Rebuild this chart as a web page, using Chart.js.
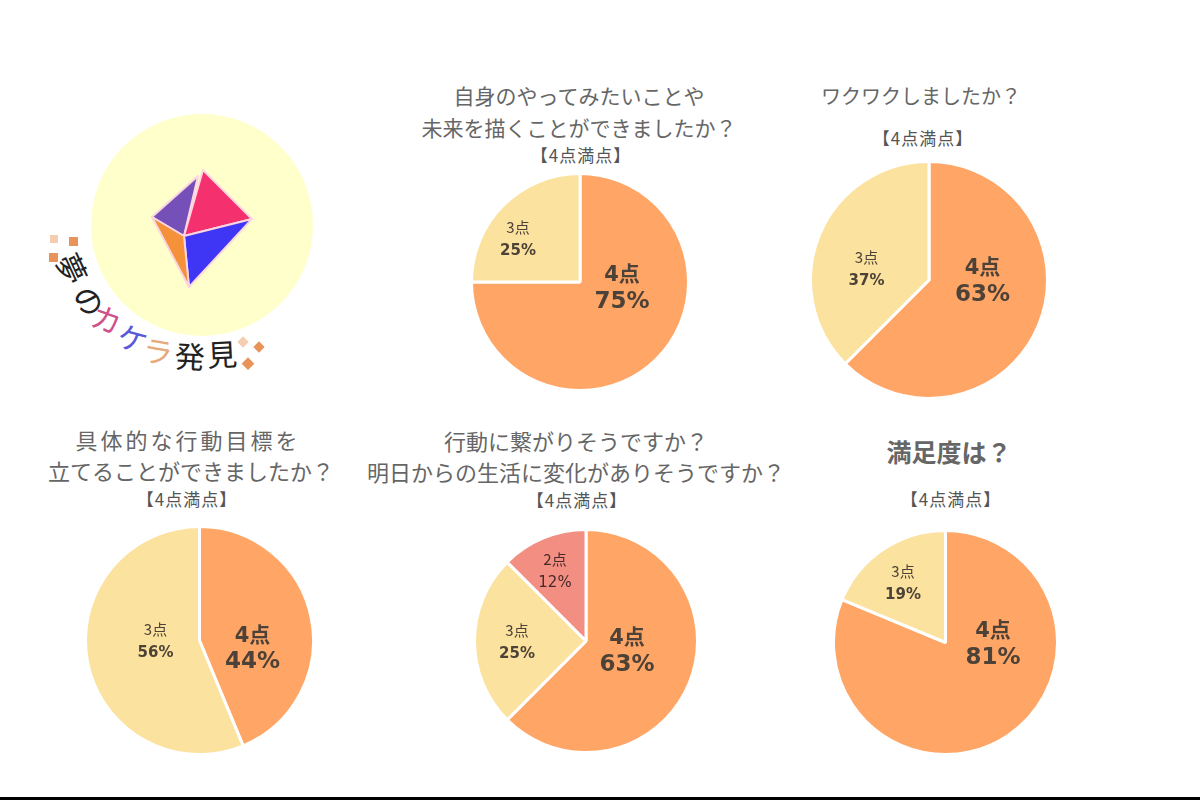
<!DOCTYPE html>
<html lang="ja">
<head>
    <meta charset="UTF-8">
    <title>夢のカケラ発見 アンケート結果</title>
    <script src="https://cdn.jsdelivr.net/npm/chart.js"></script>
    <style>
        html, body { margin: 0; padding: 0; background: #fff; }
        #page { position: relative; width: 1200px; height: 800px; overflow: hidden; font-family: "Noto Sans CJK JP", sans-serif; }
        #page canvas { position: absolute; }
        #logo { position: absolute; left: 0; top: 0; }
        .title { position: absolute; transform: translate(-50%, -50%); white-space: nowrap; font-size: 22px; color: #666; }
        .sub { position: absolute; transform: translate(-50%, -50%); white-space: nowrap; font-size: 17px; letter-spacing: 1px; color: #555; }
        #rule { position: absolute; left: 0; top: 797px; width: 1200px; height: 3px; background: #000; }
    </style>
</head>
<body>
<div id="page">
    <svg id="logo" width="400" height="400" font-family="Noto Sans CJK JP" font-size="30">
        <circle cx="202" cy="225" r="111" fill="#ffffcc"/>
        <g stroke="#fbd5e0" stroke-width="2" stroke-linejoin="round">
            <polygon points="152,217 198,176 184,236" fill="#7450b8"/>
            <polygon points="203,170 252,219 184,236" fill="#f5306e"/>
            <polygon points="184,236 252,219 189,287" fill="#3f35f5"/>
            <polygon points="152,217 184,236 189,287" fill="#f59138"/>
        </g>
        <g text-anchor="middle" dominant-baseline="central">
            <text transform="translate(73,268) rotate(65)" fill="#222">夢</text>
            <text transform="translate(90,300) rotate(50)" fill="#222">の</text>
            <text transform="translate(107,318) rotate(20)" fill="#d0508a">カ</text>
            <text transform="translate(133,337) rotate(15)" fill="#5a5ad8">ケ</text>
            <text transform="translate(158,350) rotate(10)" fill="#e8a878">ラ</text>
            <text transform="translate(190,355) rotate(3)" fill="#222">発</text>
            <text transform="translate(222,353) rotate(-3)" fill="#222">見</text>
        </g>
        <rect x="69" y="237" width="9" height="9" fill="#e8935a"/>
        <rect x="50" y="235" width="8" height="8" fill="#f5cdb0"/>
        <rect x="49" y="253" width="9" height="9" fill="#e8935a"/>
        <rect x="239" y="338" width="8" height="8" fill="#f5cdb0" transform="rotate(45 243 342)"/>
        <rect x="255" y="343" width="8" height="8" fill="#e8935a" transform="rotate(45 259 347)"/>
        <rect x="244" y="359" width="9" height="9" fill="#e8935a" transform="rotate(45 248 363)"/>
    </svg>
    <div id="rule"></div>
</div>

<script>
    const scoreLabels = ['4点', '3点', '2点'];
    const scoreColors = ['#ffa566', '#fbe29e', '#f28f82'];

    // slice sizes, the printed labels are rounded
    const q1Values = [75, 25];
    const q2Values = [62.5, 37.5];
    const q3Values = [43.75, 56.25];
    const q4Values = [62.5, 25, 12.5];
    const q5Values = [81.25, 18.75];

    const q1Percents = ['75%', '25%'];
    const q2Percents = ['63%', '37%'];
    const q3Percents = ['44%', '56%'];
    const q4Percents = ['63%', '25%', '12%'];
    const q5Percents = ['81%', '19%'];

    const subTitle = '【4点満点】';

    // placement of each pie on the page and of the text around it
    const charts = [
        {
            values: q1Values, percents: q1Percents, cx: 580, cy: 282, r: 108,
            labelPos: [[622, 287], [518, 238]],
            title: [['自身のやってみたいことや', 579, 95, 21], ['未来を描くことができましたか？', 579, 127, 21]],
            sub: [581, 154]
        },
        {
            values: q2Values, percents: q2Percents, cx: 928.5, cy: 280, r: 118,
            labelPos: [[982, 280], [866, 268]],
            title: [['ワクワクしましたか？', 921, 95, 20]],
            sub: [923, 137]
        },
        {
            values: q3Values, percents: q3Percents, cx: 199, cy: 640, r: 113.5,
            labelPos: [[252, 647], [155, 640]],
            title: [['具体的な行動目標を', 188, 439, 22, 3], ['立てることができましたか？', 191, 470, 22]],
            sub: [187, 498]
        },
        {
            values: q4Values, percents: q4Percents, cx: 586, cy: 641, r: 111,
            labelPos: [[627, 650], [517, 641], [555, 570]],
            title: [['行動に繋がりそうですか？', 576, 440, 22], ['明日からの生活に変化がありそうですか？', 576, 471, 22]],
            sub: [577, 499]
        },
        {
            values: q5Values, percents: q5Percents, cx: 945.5, cy: 642.5, r: 111.5,
            labelPos: [[993, 643], [903, 582]],
            title: [['満足度は？', 949, 451, 25]],
            sub: [951, 498],
            boldTitle: true
        }
    ];

    const page = document.getElementById('page');

    function addText(cls, text, x, y) {
        const div = document.createElement('div');
        div.className = cls;
        div.textContent = text;
        div.style.left = x + 'px';
        div.style.top = y + 'px';
        page.appendChild(div);
        return div;
    }

    // draws "4点 / 75%" inside the slices
    const sliceLabels = {
        id: 'sliceLabels',
        afterDraw(chart, args, opts) {
            const ctx = chart.ctx;
            ctx.save();
            ctx.textAlign = 'center';
            ctx.textBaseline = 'middle';
            opts.percents.forEach((p, i) => {
                const x = opts.labelPos[i][0] - opts.left;
                const y = opts.labelPos[i][1] - opts.top;
                const big = i === 0;
                ctx.fillStyle = i === 2 ? '#4a2a28' : '#4d4238';
                ctx.font = big ? 'bold 21px "DejaVu Sans","Noto Sans CJK JP"' : '15px "Noto Sans CJK JP"';
                ctx.fillText(scoreLabels[i], x, y - 11);
                ctx.font = big ? 'bold 23px "DejaVu Sans"' : (i === 2 ? '15px "DejaVu Sans"' : 'bold 15px "DejaVu Sans"');
                ctx.fillText(p, x, y + (big ? 15 : 13));
            });
            ctx.restore();
        }
    };

    charts.forEach(c => {
        const size = Math.round(c.r * 2 + 4);
        const left = c.cx - size / 2;
        const top = c.cy - size / 2;

        const canvas = document.createElement('canvas');
        canvas.width = size;
        canvas.height = size;
        canvas.style.left = left + 'px';
        canvas.style.top = top + 'px';
        page.appendChild(canvas);

        new Chart(canvas.getContext('2d'), {
            type: 'pie',
            data: {
                labels: scoreLabels.slice(0, c.values.length),
                datasets: [{
                    data: c.values,
                    backgroundColor: scoreColors.slice(0, c.values.length),
                    borderColor: '#ffffff',
                    borderWidth: 3
                }]
            },
            options: {
                responsive: false,
                animation: false,
                layout: { padding: 0 },
                plugins: {
                    legend: { display: false },
                    tooltip: { enabled: false },
                    sliceLabels: { percents: c.percents, labelPos: c.labelPos, left: left, top: top }
                }
            },
            plugins: [sliceLabels]
        });

        c.title.forEach(t => {
            const div = addText('title', t[0], t[1], t[2]);
            div.style.fontSize = t[3] + 'px';
            if (t[4]) div.style.letterSpacing = t[4] + 'px';
            if (c.boldTitle) div.style.fontWeight = 'bold';
        });
        addText('sub', subTitle, c.sub[0], c.sub[1]);
    });
</script>
</body>
</html>
